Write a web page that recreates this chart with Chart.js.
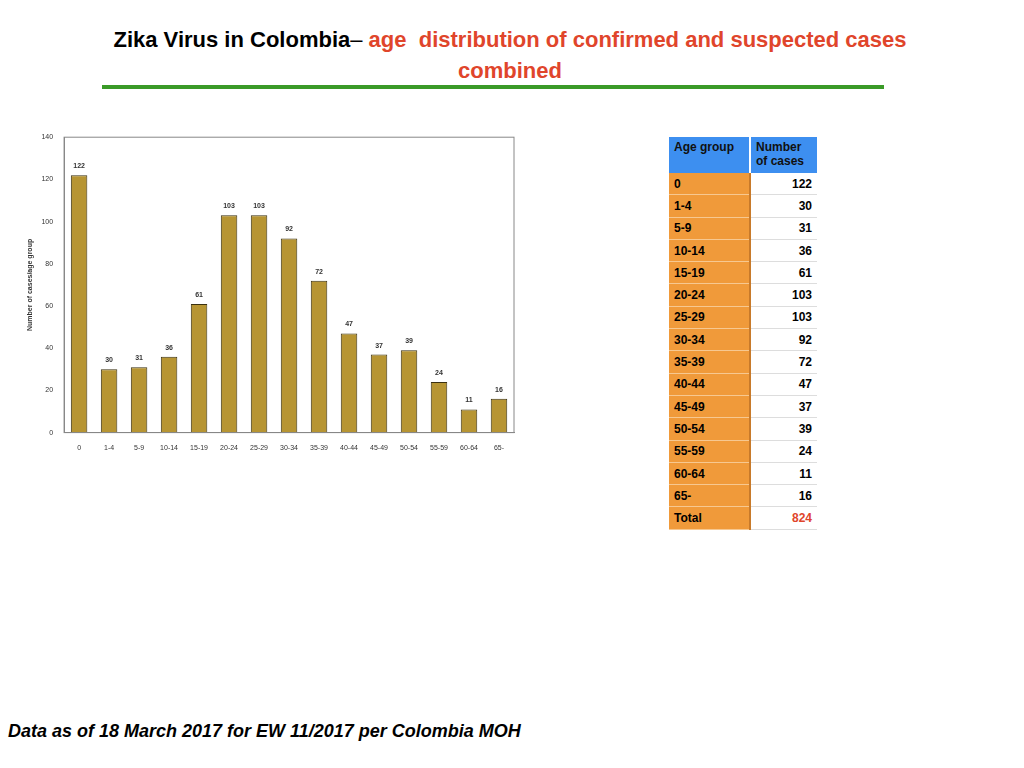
<!DOCTYPE html>
<html><head><meta charset="utf-8">
<script src="https://cdn.jsdelivr.net/npm/chart.js@4"></script>
<style>
body{margin:0;width:1024px;height:768px;background:#fff;font-family:"Liberation Sans",Arial,sans-serif;position:relative;overflow:hidden}
#title{position:absolute;top:24px;left:60px;width:900px;text-align:center;font-size:22px;font-weight:bold;line-height:31px}
#title .r{color:#e0452b}
#rule{position:absolute;top:85px;left:102px;width:782px;height:4px;background:#3a9a28}
#wrap{position:absolute;left:22px;top:130px;width:500px;height:325px}
table{position:absolute;left:669px;top:137px;border-collapse:collapse;font-size:12px;font-weight:bold}
td{height:21.3px;padding:0 5px;border-bottom:1px solid #ddd}
td.a{background:#f09a3a;width:70px;border-right:2px solid #c87a2a;border-bottom:1px solid #f7c890}
td.b{width:56px;text-align:right;background:#fff}
th{background:#3d8ff0;color:#111;text-align:left;vertical-align:top;padding:3px 5px;height:30px;font-weight:bold}
#foot{position:absolute;left:8px;top:721px;font-size:18px;font-weight:bold;font-style:italic}
</style></head><body>
<div id="title">Zika Virus in Colombia<span style="font-weight:normal">–</span> <span class="r">age&nbsp; distribution of confirmed and suspected cases<br>combined</span></div>
<div id="rule"></div>
<div id="wrap"><canvas id="myChart"></canvas></div>
<table id="tbl"></table>
<div id="foot">Data as of 18 March 2017 for EW 11/2017 per Colombia MOH</div>
<script>
// === Daten ===
const groups = ['0','1-4','5-9','10-14','15-19','20-24','25-29','30-34','35-39','40-44','45-49','50-54','55-59','60-64','65-'];
const cases = [122,30,31,36,61,103,103,92,72,47,37,39,24,11,16];

// === Tabelle ===
let html = '<tr><th style="width:70px;border-right:2px solid #fff">Age group</th><th>Number<br>of cases</th></tr>';
groups.forEach((g, i) => { html += `<tr><td class="a">${g}</td><td class="b">${cases[i]}</td></tr>`; });
html += `<tr><td class="a">Total</td><td class="b" style="color:#e0452b">${cases.reduce((a, b) => a + b, 0)}</td></tr>`;
document.getElementById('tbl').innerHTML = html;

// === Label-Plugin ===
const valueLabels = {
    id: 'valueLabels',
    afterDatasetsDraw(chart) {
        const ctx = chart.ctx;
        ctx.save();
        ctx.font = 'bold 7px "Liberation Sans"';
        ctx.fillStyle = '#333';
        ctx.textAlign = 'center';
        chart.getDatasetMeta(0).data.forEach((bar, i) => {
            ctx.fillText(cases[i], bar.x, bar.y - 7);
        });
        ctx.restore();
    }
};

new Chart(document.getElementById('myChart'), {
    type: 'bar',
    data: { labels: groups, datasets: [{ data: cases, backgroundColor: '#b79533', borderColor: '#3a3010', borderWidth: 1, barPercentage: 0.55, categoryPercentage: 1 }] },
    options: {
        responsive: true,
        maintainAspectRatio: false,
        animation: false,
        plugins: { legend: { display: false }, tooltip: { enabled: false } },
        scales: {
            x: { grid: { display: false }, border: { color: '#888' }, ticks: { font: { size: 7 }, color: '#333' } },
            y: {
                min: 0, max: 140,
                ticks: { stepSize: 20, font: { size: 7 }, color: '#333' },
                grid: { display: false },
                border: { color: '#888' },
                title: { display: true, text: 'Number of cases/age group', font: { size: 7, weight: 'bold' }, color: '#333' }
            }
        },
        layout: { padding: { right: 8 } }
    },
    plugins: [valueLabels, {
        id: 'frame',
        afterDraw(chart) {
            const a = chart.chartArea, ctx = chart.ctx;
            ctx.save(); ctx.strokeStyle = '#888'; ctx.lineWidth = 1;
            ctx.strokeRect(a.left, a.top, a.right - a.left, a.bottom - a.top);
            ctx.restore();
        }
    }]
});
</script>
</body></html>
